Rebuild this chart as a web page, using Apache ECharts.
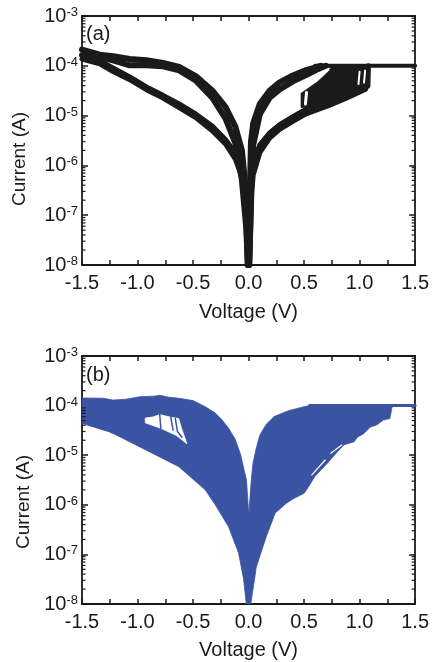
<!DOCTYPE html>
<html><head><meta charset="utf-8">
<script src="https://cdn.jsdelivr.net/npm/echarts@6/dist/echarts.min.js"></script>
<style>html,body{margin:0;padding:0;background:#fff}#c{width:432px;height:662px}</style>
</head><body><div id="c"></div>
<script>
// ---------- Panel (a): [voltage (V), current (A)] ----------
const aNegLrsUpper = [[-1.5,2.11e-4],[-1.34,1.67e-4],[-1.22,1.55e-4],[-1.07,1.37e-4],[-0.92,1.29e-4],[-0.77,1.14e-4],[-0.625,9.5e-5],[-0.476,6.2e-5],[-0.327,3.2e-5],[-0.208,1.5e-5],[-0.119,6.0e-6],[-0.06,2.0e-6],[-0.025,3.2e-7],[-0.008,1e-8]];
const aNegLrsLower = [[-1.5,1.65e-4],[-1.34,1.5e-4],[-1.22,1.29e-4],[-1.07,1.02e-4],[-0.92,1.02e-4],[-0.77,9.75e-5],[-0.625,8.1e-5],[-0.476,5.1e-5],[-0.327,2.3e-5],[-0.208,8.8e-6],[-0.119,2.8e-6],[-0.06,5.1e-7],[-0.022,6e-8],[-0.004,1e-8]];
const aNegHrsUpper = [[-1.5,1.6e-4],[-1.34,1.25e-4],[-1.22,9.0e-5],[-1.07,5.96e-5],[-0.92,3.75e-5],[-0.77,2.55e-5],[-0.625,1.71e-5],[-0.476,1.08e-5],[-0.327,6.2e-6],[-0.208,3.33e-6],[-0.119,1.8e-6],[-0.06,8.7e-7],[-0.025,2.35e-7],[-0.008,1e-8]];
const aNegHrsLower = [[-1.5,1.37e-4],[-1.34,1.09e-4],[-1.22,7.7e-5],[-1.07,5.27e-5],[-0.92,3.32e-5],[-0.77,2.25e-5],[-0.625,1.44e-5],[-0.476,9.1e-6],[-0.327,4.98e-6],[-0.208,2.69e-6],[-0.119,1.34e-6],[-0.06,5.9e-7],[-0.022,1.09e-7],[-0.005,1e-8]];
const aPosLrsUpper = [[0.004,1e-8],[0.014,5e-7],[0.022,3e-6],[0.042,7.0e-6],[0.101,1.71e-5],[0.19,3.17e-5],[0.28,4.66e-5],[0.399,6.4e-5],[0.518,8.2e-5],[0.607,9.3e-5],[0.65,1.0e-4]];
const aPosLrsLower = [[0.007,1e-8],[0.025,4e-7],[0.042,2.57e-6],[0.101,1.06e-5],[0.19,2.29e-5],[0.28,3.37e-5],[0.399,4.88e-5],[0.518,6.5e-5],[0.607,8.2e-5],[0.696,1.0e-4]];
const aPosHrsUpper = [[0.006,1e-8],[0.025,6e-7],[0.042,1.1e-6],[0.101,2.6e-6],[0.19,4.5e-6],[0.28,6.6e-6],[0.399,9.5e-6],[0.518,1.34e-5],[0.726,1.96e-5],[0.875,2.67e-5],[1.054,3.7e-5],[1.075,3.9e-5],[1.08,1.0e-4]];
const aPosHrsLower = [[0.009,1e-8],[0.03,3e-7],[0.042,6.4e-7],[0.101,1.8e-6],[0.19,3.55e-6],[0.28,5.3e-6],[0.399,7.7e-6],[0.518,1.08e-5],[0.726,1.6e-5],[0.875,2.2e-5],[1.054,3.4e-5]];
const aCompliance = [[0.6,1.0e-4],[1.5,1.0e-4]];
const aSetRegion = [[0.473,1.45e-5],[0.473,2.8e-5],[0.622,4.8e-5],[0.726,7.9e-5],[0.745,1.0e-4],[1.083,1.0e-4],[1.083,3.8e-5],[0.875,2.6e-5],[0.726,1.9e-5],[0.578,1.5e-5]];
const aSetGap1 = [[0.512,1.7e-5],[0.522,2.9e-5]];
const aSetGap2 = [[0.99,4.3e-5],[1.0,7.6e-5]];
const aSetGap3 = [[1.04,4.6e-5],[1.05,8.0e-5]];

// ---------- Panel (b): outline of the blue family of curves ----------
const bEnvelope = [[-1.5,1.42e-4],[-1.31,1.41e-4],[-1.22,1.29e-4],[-1.1,1.35e-4],[-0.98,1.51e-4],[-0.85,1.55e-4],[-0.8,1.62e-4],[-0.72,1.48e-4],[-0.63,1.41e-4],[-0.5,1.26e-4],[-0.39,9.5e-5],[-0.3,7.1e-5],[-0.24,5.2e-5],[-0.18,3.5e-5],[-0.12,2.1e-5],[-0.07,1.0e-5],[-0.04,5.0e-6],[-0.019,3.2e-6],[0.002,6.3e-7],[0.025,3.2e-6],[0.04,6.9e-6],[0.07,1.4e-5],[0.1,2.5e-5],[0.16,4.2e-5],[0.23,6.0e-5],[0.36,7.9e-5],[0.5,9.5e-5],[0.55,1.0e-4],[1.5,1.0e-4],[1.3,1.0e-4],[1.29,8.9e-5],[1.273,5.5e-5],[1.213,5.1e-5],[1.157,4.1e-5],[1.097,3.7e-5],[1.04,2.75e-5],[0.98,2.3e-5],[0.95,1.86e-5],[0.86,1.62e-5],[0.8,1.17e-5],[0.71,6.9e-6],[0.65,5.0e-6],[0.596,3.7e-6],[0.55,2.5e-6],[0.5,1.7e-6],[0.41,1.35e-6],[0.34,1.07e-6],[0.24,6.8e-7],[0.16,2.3e-7],[0.07,5.6e-8],[0.02,1e-8],[-0.02,1e-8],[-0.045,3.2e-8],[-0.09,1.07e-7],[-0.18,3.6e-7],[-0.3,1.0e-6],[-0.39,2.0e-6],[-0.63,5.9e-6],[-0.92,1.26e-5],[-1.22,2.75e-5],[-1.5,4.4e-5]];
const bHole = [[-0.93,5.6e-5],[-0.86,5.9e-5],[-0.8,6.6e-5],[-0.7,5.8e-5],[-0.63,5.5e-5],[-0.6,3.3e-5],[-0.555,1.7e-5],[-0.65,2.5e-5],[-0.78,3.4e-5],[-0.93,4.5e-5]];
const bStrand1 = [[-0.8,6.6e-5],[-0.79,3.5e-5]];
const bStrand2 = [[-0.7,5.8e-5],[-0.68,3.2e-5]];
const bStrand3 = [[-0.66,5.5e-5],[-0.64,3.0e-5],[-0.6,2.3e-5]];
const bGap1 = [[-1.42,3.6e-5],[-1.25,2.8e-5]];
const bGap2 = [[-1.03,1.45e-5],[-0.92,1.15e-5],[-0.82,8.5e-6]];
const bGap3 = [[0.57,4.0e-6],[0.69,8.0e-6]];
const bGap4 = [[0.74,1.1e-5],[0.84,1.6e-5]];
const bCompliance = [[0.55,1.0e-4],[1.5,1.0e-4]];

// ---------- Axes ----------
const vMin = -1.5, vMax = 1.5, vStep = 0.25;
const iMin = 1e-8, iMax = 1e-3;
const minorDecades = [1e-8, 1e-7, 1e-6, 1e-5, 1e-4];
const minorMultipliers = [2, 3, 4, 5, 6, 7, 8, 9];

const FONT = "'Liberation Sans', Arial, Helvetica, sans-serif";
const INK = '#1a1a1a';
const BLUE = '#3a53a3';

function lineS(g, data, color, width, z) {
  return { type: 'line', xAxisIndex: 2 * g, yAxisIndex: 2 * g, data: data, showSymbol: false, symbol: 'none',
    lineStyle: { color: color, width: width, cap: 'round', join: 'round' }, z: z || 2, silent: true, clip: true };
}
function polyS(g, data, color, z) {
  return { type: 'custom', xAxisIndex: 2 * g, yAxisIndex: 2 * g, coordinateSystem: 'cartesian2d', clip: true, silent: true,
    z: z || 2, encode: { x: 0, y: 1 }, data: data,
    renderItem: function (params, api) {
      if (params.dataIndex !== 0) return null;
      const n = params.dataInsideLength, pts = [];
      for (let i = 0; i < n; i++) pts.push(api.coord([api.value(0, i), api.value(1, i)]));
      return { type: 'polygon', shape: { points: pts }, style: { fill: color, stroke: color, lineWidth: 0.8 } };
    } };
}
// logarithmic minor ticks (2..9 of each decade) on the left and right y axes, placed through the axis scale
const minorTickData = [];
minorDecades.forEach(function (d) { minorMultipliers.forEach(function (m) { minorTickData.push([vMin, m * d]); }); });
function minorTickS(g) {
  return { type: 'custom', xAxisIndex: 2 * g, yAxisIndex: 2 * g, coordinateSystem: 'cartesian2d', clip: false, silent: true,
    z: 10, encode: { x: 0, y: 1 }, data: minorTickData,
    renderItem: function (params, api) {
      const l = api.coord([vMin, api.value(1)]);
      const r = api.coord([vMax, api.value(1)]);
      return { type: 'group', children: [
        { type: 'rect', shape: { x: l[0], y: l[1] - 0.6, width: 3.5, height: 1.2 }, style: { fill: INK } },
        { type: 'rect', shape: { x: r[0] - 3.5, y: r[1] - 0.6, width: 3.5, height: 1.2 }, style: { fill: INK } }
      ] };
    } };
}

const axLine = { color: INK, width: 1.8 };
function xAx(g, top, nameGap) {
  return { type: 'value', gridIndex: g, position: top ? 'top' : 'bottom', min: vMin, max: vMax, interval: vStep,
    axisLine: { show: true, onZero: false, lineStyle: axLine },
    axisTick: { show: true, inside: true, length: 5, lineStyle: { color: INK, width: 1.5 } },
    axisLabel: { show: !top, margin: 8, fontSize: 20, color: INK, fontFamily: FONT,
      formatter: function (v) { return Math.abs(v * 2 - Math.round(v * 2)) < 1e-6 ? (Math.abs(v) < 1e-9 ? '0.0' : v.toFixed(1)) : ''; } },
    splitLine: { show: false },
    name: top ? '' : 'Voltage (V)', nameLocation: 'middle', nameGap: nameGap,
    nameTextStyle: { fontSize: 20, color: INK, fontFamily: FONT } };
}
function yAx(g, right, nameGap, shift) {
  return { type: 'log', logBase: 10, gridIndex: g, position: right ? 'right' : 'left', min: iMin, max: iMax,
    axisLine: { show: true, onZero: false, lineStyle: axLine },
    axisTick: { show: true, inside: true, length: 6, lineStyle: { color: INK, width: 1.5 } },
    axisLabel: { show: !right, margin: 4, color: INK, fontFamily: FONT,
      formatter: function (v) { return '{b|10}{s|' + Math.round(Math.log10(v)) + '}'; },
      rich: { b: { fontSize: 20, lineHeight: 20, fontFamily: FONT, color: INK },
              s: { fontSize: 13, lineHeight: 12, verticalAlign: 'top', fontFamily: FONT, color: INK } } },
    splitLine: { show: false }, minorSplitLine: { show: false },
    name: right ? '' : 'Current (A)', nameLocation: 'middle', nameGap: nameGap,
    nameTextStyle: { fontSize: 19, color: INK, fontFamily: FONT, padding: [0, shift, 0, 0] } };
}

const chart = echarts.init(document.getElementById('c'), null, { renderer: 'canvas' });
chart.setOption({
  animation: false,
  backgroundColor: '#fff',
  grid: [
    { left: 82, top: 16, width: 336, height: 249 },
    { left: 82, top: 356, width: 337, height: 248 }
  ],
  xAxis: [xAx(0, false, 37), xAx(0, true, 0), xAx(1, false, 36), xAx(1, true, 0)],
  yAxis: [yAx(0, false, 53, 37), yAx(0, true, 0, 0), yAx(1, false, 49, 44), yAx(1, true, 0, 0)],
  graphic: [
    { type: 'text', x: 86, y: 34, style: { text: '(a)', fontSize: 20, fontFamily: FONT, fill: INK, align: 'left', verticalAlign: 'middle' } },
    { type: 'text', x: 86, y: 375, style: { text: '(b)', fontSize: 20, fontFamily: FONT, fill: INK, align: 'left', verticalAlign: 'middle' } }
  ],
  series: [
    lineS(0, aNegLrsUpper, INK, 6), lineS(0, aNegLrsLower, INK, 6),
    lineS(0, aNegHrsUpper, INK, 5), lineS(0, aNegHrsLower, INK, 5),
    lineS(0, aPosLrsUpper, INK, 6), lineS(0, aPosLrsLower, INK, 6),
    lineS(0, aPosHrsUpper, INK, 5), lineS(0, aPosHrsLower, INK, 5),
    lineS(0, aCompliance, INK, 4),
    polyS(0, aSetRegion, INK, 2),
    lineS(0, aSetGap1, '#fff', 3, 3), lineS(0, aSetGap2, '#fff', 2, 3), lineS(0, aSetGap3, '#fff', 2, 3),
    polyS(1, bEnvelope, BLUE, 2),
    polyS(1, bHole, '#fff', 3),
    lineS(1, bStrand1, BLUE, 1.5, 4), lineS(1, bStrand2, BLUE, 1.5, 4), lineS(1, bStrand3, BLUE, 1.5, 4),
    lineS(1, bGap1, '#fff', 1.2, 3), lineS(1, bGap2, '#fff', 1.2, 3), lineS(1, bGap3, '#fff', 1.2, 3), lineS(1, bGap4, '#fff', 1.2, 3),
    lineS(1, bCompliance, BLUE, 3, 4),
    minorTickS(0), minorTickS(1)
  ]
});
</script></body></html>
